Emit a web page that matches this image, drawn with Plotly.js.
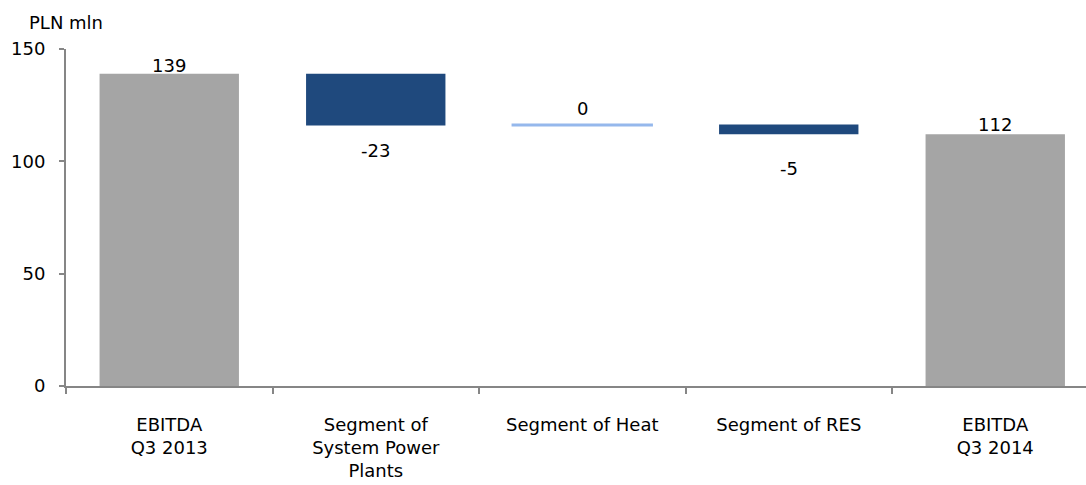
<!DOCTYPE html>
<html>
<head>
<meta charset="utf-8">
<script src="https://cdn.plot.ly/plotly-3.0.1.min.js"></script>
<style>
  html, body { margin: 0; padding: 0; background: #ffffff; }
  #chart { width: 1086px; height: 485px; }
</style>
</head>
<body>
<div id="chart"></div>
<script>
// ---- Data ----
const categories = [
  "EBITDA<br>Q3 2013",
  "Segment of<br>System Power<br>Plants",
  "Segment of Heat",
  "Segment of RES",
  "EBITDA<br>Q3 2014"
];
const startTotal = 139;          // EBITDA Q3 2013
const deltas = [-23, 0.4, -4.4]; // SPP, Heat, RES
const endTotal = 112;            // EBITDA Q3 2014
const labels = ["139", "-23", "0", "-5", "112"];
const yTicks = [0, 50, 100, 150];
const unitLabel = "PLN mln";

// ---- Styles ----
const FONT = "DejaVu Sans, Verdana, sans-serif";
const GREY_BAR = "#A5A5A5";
const DARK_BLUE = "#1F497D";
const LIGHT_BLUE = "#95B8EC";
const AXIS = "#868686";
const labelShift = [8, -25, 16, -34, 10];

// build waterfall geometry from data
const bases = [0];
const heights = [startTotal];
const colors = [GREY_BAR];
let running = startTotal;
deltas.forEach(d => {
  bases.push(running);
  heights.push(d);
  colors.push(d > 0 ? LIGHT_BLUE : DARK_BLUE);
  running += d;
});
bases.push(0);
heights.push(endTotal);
colors.push(GREY_BAR);

const trace = {
  type: "bar",
  x: categories,
  y: heights,
  base: bases,
  width: 0.675,
  marker: {
    color: colors,
    line: { color: colors, width: heights.map(h => Math.abs(h) < 1 ? 2 : 0) }
  },
  hoverinfo: "skip"
};

// label anchors: above the top for positive/total, below the bottom for negative
const annotations = categories.map((c, i) => {
  const top = Math.max(bases[i], bases[i] + heights[i]);
  const bottom = Math.min(bases[i], bases[i] + heights[i]);
  const neg = heights[i] < 0;
  return {
    x: c, y: neg ? bottom : top,
    xref: "x", yref: "y",
    text: labels[i],
    showarrow: false,
    xanchor: "center", yanchor: "middle",
    yshift: labelShift[i],
    font: { family: FONT, size: 18, color: "#000000" }
  };
});
annotations.push({
  xref: "paper", yref: "paper",
  x: -39 / 1020, y: 1 + 27 / 337,
  xanchor: "left", yanchor: "middle",
  text: unitLabel, showarrow: false,
  font: { family: FONT, size: 18, color: "#000000" }
});

const layout = {
  width: 1086, height: 485,
  margin: { l: 66, r: 0, t: 49, b: 99, pad: 0 },
  paper_bgcolor: "#ffffff",
  plot_bgcolor: "#ffffff",
  showlegend: false,
  font: { family: FONT, size: 18, color: "#000000" },
  xaxis: {
    type: "category",
    range: [-0.5, -0.5 + 1020 / 206.5],
    showgrid: false, zeroline: false,
    showline: true, linecolor: AXIS, linewidth: 2,
    ticks: "outside", tickson: "boundaries", ticklen: 6, tickwidth: 2, tickcolor: AXIS,
    ticklabelstandoff: 21,
    tickfont: { family: FONT, size: 18, color: "#000000" },
    fixedrange: true
  },
  yaxis: {
    range: [0, 150],
    tickvals: yTicks,
    ticktext: yTicks.map(String),
    showgrid: false, zeroline: false,
    showline: true, linecolor: AXIS, linewidth: 2,
    ticks: "outside", ticklen: 5, tickwidth: 2, tickcolor: AXIS,
    ticklabelstandoff: 10,
    tickfont: { family: FONT, size: 18, color: "#000000" },
    fixedrange: true
  },
  annotations: annotations,
  bargap: 0
};

Plotly.newPlot("chart", [trace], layout, { displayModeBar: false, staticPlot: true });
</script>
</body>
</html>
